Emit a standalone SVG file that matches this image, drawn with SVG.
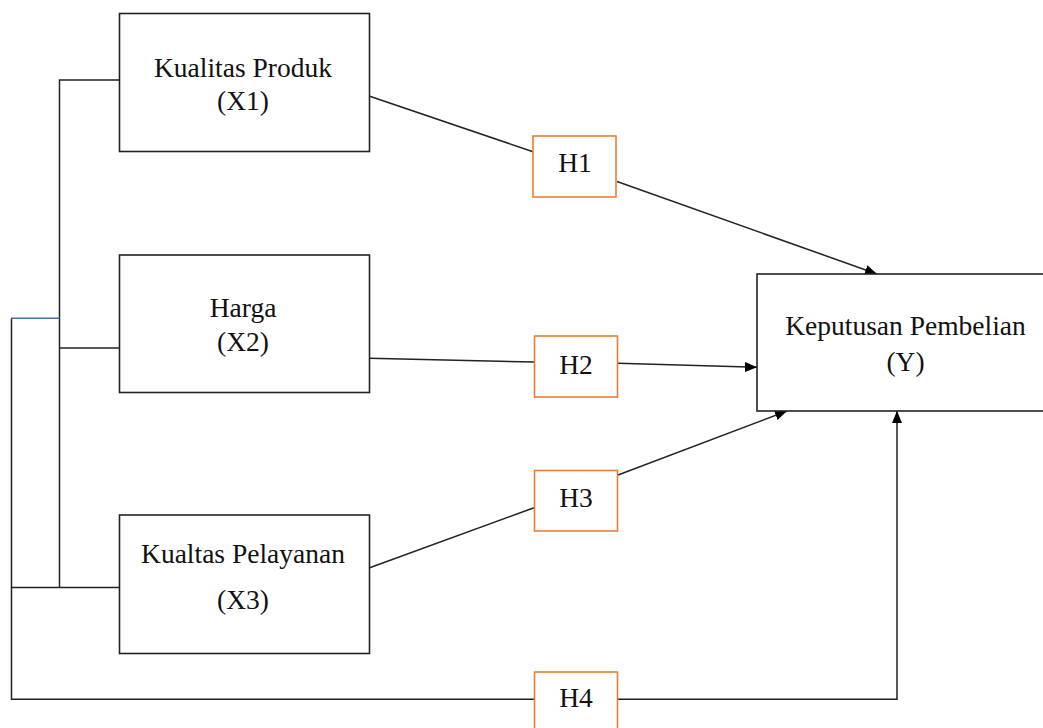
<svg xmlns="http://www.w3.org/2000/svg" width="1043" height="728" viewBox="0 0 1043 728">
<style>
.box{fill:#fff;stroke:#222;stroke-width:1.6}
.hbox{fill:#fff;stroke:#ED7D31;stroke-width:1.6}
.ln{fill:none;stroke:#222;stroke-width:1.5}
.t{font-family:"Liberation Serif","Times New Roman",serif;font-size:27.5px;fill:#111;text-anchor:middle}
</style>
<defs>
<marker id="arr" markerUnits="userSpaceOnUse" markerWidth="12" markerHeight="10" refX="12" refY="5" orient="auto">
<path d="M0,0 L12,5 L0,10 z" fill="#000"/>
</marker>
</defs>
<rect width="1043" height="728" fill="#fff"/>
<g id="connectors">
<path class="ln" d="M119,80 H59.5 V587.5"/>
<path class="ln" d="M59.5,348 H119"/>
<path class="ln" d="M119,587.5 H11.5 V699.3 H535"/>
<path class="ln" d="M11.5,587.5 V318.3"/>
<path d="M11,318.3 H59.5" fill="none" stroke="#41719C" stroke-width="1.6"/>
<path class="ln" d="M369,96 L533,151.7"/>
<path class="ln" d="M617,181.5 L877,274" marker-end="url(#arr)"/>
<path class="ln" d="M369,358.3 L534,362"/>
<path class="ln" d="M618,363.3 L757,367.3" marker-end="url(#arr)"/>
<path class="ln" d="M369,568 L534,507.7"/>
<path class="ln" d="M618,475 L787,411" marker-end="url(#arr)"/>
<path class="ln" d="M618,699.3 H897 V411" marker-end="url(#arr)"/>
</g>
<g id="x1">
<rect class="box" x="119.5" y="13.5" width="250" height="138"/>
<text class="t" x="243" y="77">Kualitas Produk</text>
<text class="t" x="243" y="110">(X1)</text>
</g>
<g id="x2">
<rect class="box" x="119.5" y="255" width="250" height="137.5"/>
<text class="t" x="243" y="317">Harga</text>
<text class="t" x="243" y="351">(X2)</text>
</g>
<g id="x3">
<rect class="box" x="119.5" y="515" width="250" height="138.5"/>
<text class="t" x="243" y="563">Kualtas Pelayanan</text>
<text class="t" x="243" y="609">(X3)</text>
</g>
<g id="y">
<rect class="box" x="757" y="274" width="300" height="137"/>
<text class="t" x="905.5" y="335">Keputusan Pembelian</text>
<text class="t" x="905.5" y="370.5">(Y)</text>
</g>
<g id="h1">
<rect class="hbox" x="533" y="136" width="83" height="61"/>
<text class="t" x="575" y="172">H1</text>
</g>
<g id="h2">
<rect class="hbox" x="534.5" y="336" width="83" height="61"/>
<text class="t" x="576" y="373.5">H2</text>
</g>
<g id="h3">
<rect class="hbox" x="534.5" y="470.5" width="83" height="60.5"/>
<text class="t" x="576" y="507">H3</text>
</g>
<g id="h4">
<rect class="hbox" x="534.5" y="672" width="83" height="61"/>
<text class="t" x="576" y="707">H4</text>
</g>
</svg>
